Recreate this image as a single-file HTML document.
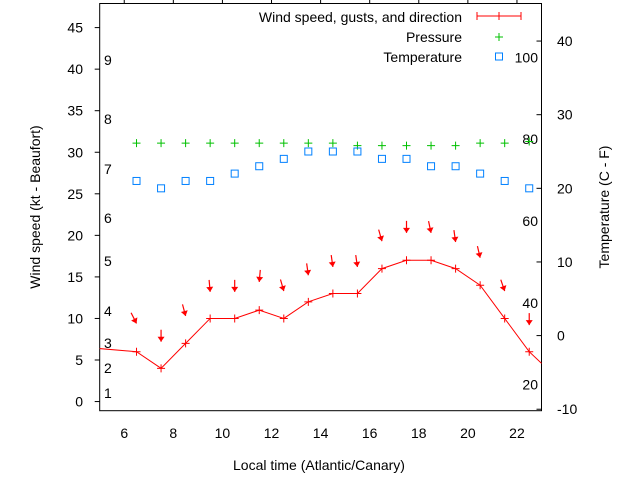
<!DOCTYPE html>
<html><head><meta charset="utf-8"><style>
body{margin:0;background:#fff;}
svg text{font-family:"Liberation Sans",sans-serif;font-size:14px;fill:#000;}
</style></head><body>
<svg id="chart" width="640" height="480" xmlns="http://www.w3.org/2000/svg"></svg>
<script>
const hours = [6.5,7.5,8.5,9.5,10.5,11.5,12.5,13.5,14.5,15.5,16.5,17.5,18.5,19.5,20.5,21.5,22.5];
const windHours = [4.5,6.5,7.5,8.5,9.5,10.5,11.5,12.5,13.5,14.5,15.5,16.5,17.5,18.5,19.5,20.5,21.5,22.5,23.5];
const windSpeed = [6.5,6,4,7,10,10,11,10,12,13,13,16,17,17,16,14,10,6,3.2];
const gusts = [9.4,7.2,10.3,13.2,13.2,14.4,13.3,15.2,16.2,16.2,19.3,20.3,20.3,19.2,17.3,13.3,9.2];
const windDir = [333,0,345,355,0,5,344,352,352,352,344,0,348,352,347,341,0];
const pressure = [31.1,31.1,31.1,31.1,31.1,31.1,31.1,31.1,31.1,30.8,30.8,30.8,30.8,30.8,31.1,31.1,31.3];
const temperature = [21,20,21,21,22,23,24,25,25,25,24,24,23,23,22,21,20];
const xTicks = [6,8,10,12,14,16,18,20,22];
const yTicks = [0,5,10,15,20,25,30,35,40,45];
const y2Ticks = [-10,0,10,20,30,40];
const beaufort = [[1,393],[2,368],[3,343],[4,311],[5,261],[6,218],[7,169],[8,119],[9,60]];
const fahrenheit = [20,40,60,80,100];

const L=99.7,R=541.5,T=3.5,B=410.7;
const X=v=>L+(v-5)*(R-L)/18;
const Y=v=>B-(v+1.1)*(B-T)/49;
const Y2=v=>B-(v+10.2)*(B-T)/55.3;
const svg=document.getElementById('chart');
const NS='http://www.w3.org/2000/svg';
function mk(tag,attrs,parent){const e=document.createElementNS(NS,tag);for(const k in attrs)e.setAttribute(k,attrs[k]);(parent||svg).appendChild(e);return e;}
function txt(s,x,y,anchor){const t=mk('text',{x:x,y:y,'text-anchor':anchor||'start'});t.textContent=s;return t;}

const frame=mk('rect',{x:L,y:T,width:R-L,height:B-T,fill:'none',stroke:'#000','stroke-width':1});



xTicks.forEach(v=>{
  const l=mk('line',{x1:X(v),x2:X(v),y1:T,y2:T-5,stroke:'#000'});
  
  
  const t=txt(String(v),X(v),438,'middle');
  
  
});
yTicks.forEach(v=>{
  const l=mk('line',{x1:L,x2:L-5,y1:Y(v),y2:Y(v),stroke:'#000'});
  
  
  const t=txt(String(v),83,Y(v)+5,'end');
  
  
});
y2Ticks.forEach(v=>{
  const l=mk('line',{x1:R,x2:R-5,y1:Y2(v),y2:Y2(v),stroke:'#000'});
  
  
  const t=txt(String(v),557,Y2(v)+5,'start');
  
  
});
beaufort.forEach(b=>{
  const t=txt(String(b[0]),104,b[1]+5,'start');
  
  
});
fahrenheit.forEach(f=>{
  const t=txt(String(f),538,Y2((f-32)*5/9)+5,'end');
  
  
});

const xl=txt('Local time (Atlantic/Canary)',319,470,'middle');


const yl=txt('Wind speed (kt - Beaufort)',0,0,'middle');
yl.setAttribute('transform','translate(40,207) rotate(-90)');


const y2l=txt('Temperature (C - F)',0,0,'middle');
y2l.setAttribute('transform','translate(609,207) rotate(-90)');



const clip=mk('clipPath',{id:'pc'});mk('rect',{x:L,y:T,width:R-L,height:B-T},clip);
const g=mk('g',{'clip-path':'url(#pc)'});


const wl=mk('polyline',{points:windHours.map((h,i)=>X(h)+','+Y(windSpeed[i])).join(' '),fill:'none',stroke:'#f00','stroke-width':1},g);


windHours.forEach((h,i)=>{
  const x=X(h),y=Y(windSpeed[i]);
  const p=mk('path',{d:`M${x-4} ${y}H${x+4}M${x} ${y-4}V${y+4}`,stroke:'#f00'},g);
  
  
});
hours.forEach((h,i)=>{
  const x=X(h),y=Y(gusts[i]);
  const a=(windDir[i])*Math.PI/180;
  const dx=-Math.sin(a),dy=Math.cos(a);
  const len=12;
  const tx=x-dx*len,ty=y-dy*len;
  const px=-dy,py=dx;
  const ag=mk('g',{},g);
  
  
  mk('line',{x1:tx,y1:ty,x2:x,y2:y,stroke:'#f00','stroke-width':1.2},ag);
  mk('polygon',{points:`${x},${y} ${x-dx*5+px*3.5},${y-dy*5+py*3.5} ${x-dx*5-px*3.5},${y-dy*5-py*3.5}`,fill:'#f00'},ag);
});
hours.forEach((h,i)=>{
  const x=X(h),y=Y(pressure[i]);
  const p=mk('path',{d:`M${x-4} ${y}H${x+4}M${x} ${y-4}V${y+4}`,stroke:'#00c000'},g);
  
  
});
hours.forEach((h,i)=>{
  const x=X(h),y=Y2(temperature[i]);
  const r=mk('rect',{x:x-3.5,y:y-3.5,width:7,height:7,fill:'none',stroke:'#0080ff','stroke-width':1},g);
  
  
});

const lg=mk('g',{});


const l1=txt('Wind speed, gusts, and direction',462,22,'end');lg.appendChild(l1);


mk('path',{d:'M477 16H521M477 12V20M521 12V20M499 12V20',stroke:'#f00'},lg);
const l2=txt('Pressure',462,42,'end');lg.appendChild(l2);


mk('path',{d:'M495 37H503M499 33V41',stroke:'#00c000'},lg);
const l3=txt('Temperature',462,62,'end');lg.appendChild(l3);


mk('rect',{x:495.5,y:53,width:7,height:7,fill:'none',stroke:'#0080ff'},lg);
</script>
</body></html>
